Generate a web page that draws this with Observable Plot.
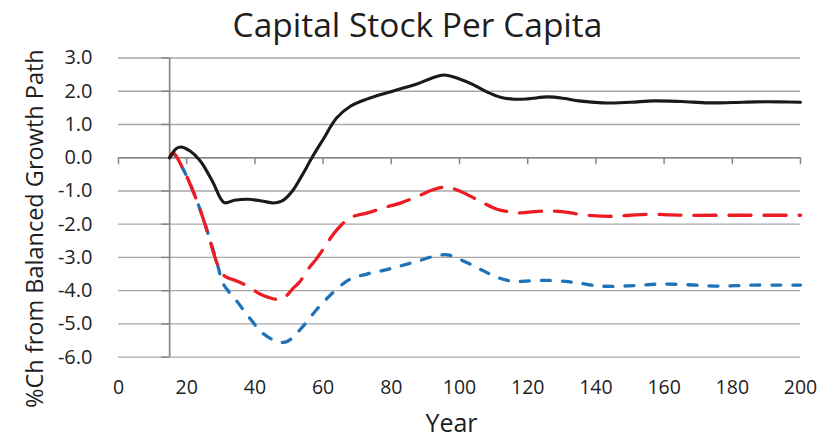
<!DOCTYPE html>
<html>
<head>
<meta charset="utf-8">
<script src="https://cdn.jsdelivr.net/npm/d3@7"></script>
<script src="https://cdn.jsdelivr.net/npm/@observablehq/plot@0.6"></script>
<style>
  html, body { margin: 0; padding: 0; background: #fff; }
  #chart svg { display: block; }
</style>
</head>
<body>
<div id="chart"></div>
<script>
const title = "Capital Stock Per Capita";
const xLabel = "Year";
const yLabel = "%Ch from Balanced Growth Path";
const xTicks = [0, 20, 40, 60, 80, 100, 120, 140, 160, 180, 200];
const yTicks = [3, 2, 1, 0, -1, -2, -3, -4, -5, -6];
const axisYear = 15;

const blackYears  = [15, 17, 18.5, 21, 24, 27.5, 31, 34, 38, 42, 45.5, 48, 51, 54, 57, 60, 64, 68, 73, 77.5, 83, 87.5, 92, 95.5, 100, 104, 108, 112, 116, 120, 126, 131, 135, 142, 150, 157, 165, 173, 180, 187, 194, 200];
const blackValues = [0, 0.28, 0.32, 0.2, -0.1, -0.7, -1.35, -1.28, -1.25, -1.3, -1.36, -1.3, -1.0, -0.5, 0.05, 0.55, 1.2, 1.55, 1.77, 1.92, 2.08, 2.22, 2.4, 2.49, 2.37, 2.2, 1.98, 1.82, 1.76, 1.77, 1.83, 1.78, 1.71, 1.65, 1.67, 1.71, 1.69, 1.65, 1.66, 1.68, 1.68, 1.67];

const redYears  = [15, 16, 19, 23, 26, 29, 31, 33, 35, 38, 41.5, 44, 46.5, 48.5, 51, 53, 56, 58, 61, 63, 65, 68, 73, 78, 83, 88, 92, 96, 100, 104, 107, 111, 115, 118, 122, 126, 130, 135, 140, 145, 150, 156, 162, 167, 176, 187, 200];
const redValues = [0, 0.15, -0.35, -1.3, -2.2, -3.2, -3.55, -3.65, -3.72, -3.87, -4.1, -4.2, -4.26, -4.22, -3.95, -3.75, -3.3, -3.05, -2.6, -2.3, -2.06, -1.8, -1.66, -1.5, -1.35, -1.15, -0.97, -0.88, -1.0, -1.2, -1.36, -1.55, -1.63, -1.66, -1.62, -1.6, -1.62, -1.7, -1.75, -1.76, -1.73, -1.7, -1.72, -1.73, -1.73, -1.73, -1.73];

const blueYears  = [15, 16, 19, 23, 26, 29, 30.5, 32.5, 34.6, 38.5, 42.3, 46.3, 48.8, 51, 53, 55.5, 58, 61, 63.5, 67.8, 72.8, 78, 82.5, 88, 94, 97, 100, 103.5, 107, 111, 116, 121, 126, 131, 135, 140, 145, 152, 159, 167, 174.5, 181, 187, 194, 200];
const blueValues = [0, 0.12, -0.35, -1.3, -2.2, -3.2, -3.75, -4.05, -4.3, -4.83, -5.28, -5.52, -5.55, -5.42, -5.2, -4.9, -4.58, -4.25, -4.0, -3.66, -3.5, -3.38, -3.26, -3.1, -2.93, -2.93, -3.05, -3.22, -3.4, -3.6, -3.72, -3.7, -3.69, -3.72, -3.77, -3.85, -3.87, -3.84, -3.8, -3.82, -3.86, -3.85, -3.83, -3.83, -3.83];

const toRows = (xs, ys) => xs.map((x, i) => ({year: x, value: ys[i]}));
const black = toRows(blackYears, blackValues);
const red = toRows(redYears, redValues);
const blue = toRows(blueYears, blueValues);

const gridColor = "#a9a9a9";
const axisColor = "#878787";
const textColor = "#1e1e1e";
const font = "'Open Sans', sans-serif";

const chart = Plot.plot({
  width: 820,
  height: 438,
  marginLeft: 118,
  marginRight: 20,
  marginTop: 57.5,
  marginBottom: 81.3,
  style: {fontFamily: font, color: textColor, background: "#fff"},
  x: {domain: [0, 200]},
  y: {domain: [-6, 3]},
  marks: [
    Plot.ruleY(yTicks, {stroke: gridColor, strokeWidth: 1.3}),
    Plot.ruleY(yTicks, {x1: axisYear, x2: axisYear, insetLeft: -8, stroke: axisColor, strokeWidth: 1.5}),
    Plot.ruleX([axisYear], {stroke: axisColor, strokeWidth: 1.7}),
    Plot.ruleY([0], {stroke: axisColor, strokeWidth: 1.7}),
    Plot.ruleX(xTicks, {y1: 0, y2: 0, insetBottom: -7, stroke: axisColor, strokeWidth: 1.5}),
    Plot.axisY({ticks: yTicks, tickSize: 0, tickPadding: 26, tickFormat: d => d.toFixed(1), fontSize: 20, label: null}),
    Plot.axisX({ticks: xTicks, tickSize: 0, tickPadding: 23, tickFormat: d => String(d), fontSize: 19.5, label: null}),
    Plot.lineY(blue, {x: "year", y: "value", stroke: "#1d72b8", strokeWidth: 3.3, strokeDasharray: "9,12", strokeLinecap: "round", curve: "catmull-rom"}),
    Plot.lineY(red, {x: "year", y: "value", stroke: "#ec1c24", strokeWidth: 3.3, strokeDasharray: "22,13", strokeLinecap: "round", curve: "catmull-rom"}),
    Plot.lineY(black, {x: "year", y: "value", stroke: "#1a1a1a", strokeWidth: 3.1, curve: "catmull-rom"}),
    Plot.text([title], {frameAnchor: "top", dx: -42, dy: -45, fontSize: 33.5, fill: textColor}),
    Plot.text([xLabel], {frameAnchor: "bottom", dx: -8, dy: 75, fontSize: 25, fill: textColor}),
    Plot.text([yLabel], {frameAnchor: "left", textAnchor: "middle", dx: -83, dy: 21, rotate: -90, fontSize: 23.5, fill: textColor})
  ]
});
document.getElementById("chart").append(chart);
</script>
</body>
</html>
